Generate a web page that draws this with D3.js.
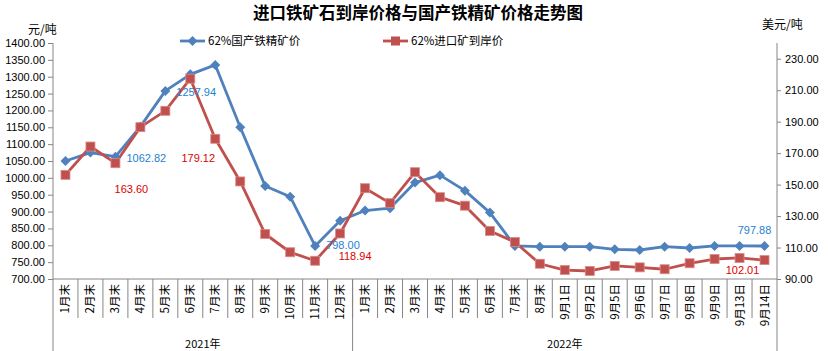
<!DOCTYPE html>
<html>
<head>
<meta charset="utf-8">
<script src="https://cdn.jsdelivr.net/npm/d3@7"></script>
<style>
  body { margin: 0; background: #fff; }
  svg { display: block; font-family: "Liberation Sans", "Noto Sans CJK SC", sans-serif; }
</style>
</head>
<body>
<svg width="828" height="351"></svg>
<script>
const width = 828, height = 351;
const svg = d3.select("svg");

// categories (2021 months, 2022 months + Sept days)
const categories = ["1月末","2月末","3月末","4月末","5月末","6月末","7月末","8月末","9月末","10月末","11月末","12月末",
    "1月末","2月末","3月末","4月末","5月末","6月末","7月末","8月末",
    "9月1日","9月2日","9月5日","9月6日","9月7日","9月8日","9月9日","9月13日","9月14日"];
const yearNames = ["2021年", "2022年"];
const yearCounts = [12, 17];

// 62%国产铁精矿价 (元/吨, left axis)
const domestic = [1050,1075,1062.82,1152,1257.94,1307,1335,1150,976,944,798,873,
    903,910,986,1008,962,897,798,796,
    796,796,788,786,796,792,798,798,797.88];
// 62%进口矿到岸价 (美元/吨, right axis)
const imported = [156.2,174.2,163.6,186.5,196.9,217.3,179.12,152,118.6,107,101.6,118.94,
    147.7,138.2,157.9,142,136.6,120.5,113.5,99.7,
    95.7,95.1,98.3,97.4,96.2,100,102.7,103.4,102.01];

const leftTicks = d3.range(700, 1401, 50);
const rightTicks = d3.range(90, 231, 20);

const margin = {left: 53, right: 51, top: 43, bottom: 72};
const x0 = margin.left, x1 = width - margin.right, yBase = height - margin.bottom;

const x = d3.scaleBand().domain(d3.range(categories.length)).range([x0, x1]).padding(0);
const yL = d3.scaleLinear().domain([700, 1400]).range([yBase, margin.top]);
const yR = d3.scaleLinear().domain([90, 240]).range([yBase, margin.top]);
const cx = i => x(i) + x.bandwidth() / 2;

const blue = "#4F81BD", red = "#C0504D";

// title
svg.append("text")
    .attr("x", 418).attr("y", 19)
    .attr("text-anchor", "middle")
    .style("font-family", "'Noto Sans CJK SC'")
    .style("font-size", "16.5px").style("font-weight", "bold")
    .text("进口铁矿石到岸价格与国产铁精矿价格走势图");

// axis titles
svg.append("text").attr("x", 28).attr("y", 34)
    .style("font-family", "'Noto Sans CJK SC'").style("font-size", "12px").text("元/吨");
svg.append("text").attr("x", 762).attr("y", 29)
    .style("font-family", "'Noto Sans CJK SC'").style("font-size", "12px").text("美元/吨");

// left axis
const gl = svg.append("g")
    .attr("transform", `translate(${x0},0)`)
    .call(d3.axisLeft(yL).tickValues(leftTicks).tickFormat(d3.format(".2f")).tickSize(5).tickSizeOuter(0));
gl.select(".domain").remove();
gl.selectAll(".tick line").attr("stroke", "#868686");
gl.selectAll(".tick text").style("font-size", "11px").attr("x", -8).attr("fill", "#000");
svg.append("line").attr("x1", x0).attr("x2", x0).attr("y1", margin.top).attr("y2", height)
    .attr("stroke", "#868686");

// right axis
const gr = svg.append("g")
    .attr("transform", `translate(${x1},0)`)
    .call(d3.axisRight(yR).tickValues(rightTicks).tickFormat(d3.format(".2f")).tickSize(4).tickSizeOuter(0));
gr.select(".domain").remove();
gr.selectAll(".tick line").attr("stroke", "#868686");
gr.selectAll(".tick text").style("font-size", "11px").attr("x", 8).attr("fill", "#000");
svg.append("line").attr("x1", x1).attr("x2", x1).attr("y1", margin.top).attr("y2", height)
    .attr("stroke", "#868686");

// bottom axis line + category separators
svg.append("line").attr("x1", x0).attr("x2", x1).attr("y1", yBase).attr("y2", yBase)
    .attr("stroke", "#868686");
svg.selectAll(".sep")
    .data(d3.range(1, categories.length))
    .enter().append("line")
    .attr("x1", i => x(i)).attr("x2", i => x(i))
    .attr("y1", yBase).attr("y2", yBase + 39)
    .attr("stroke", "#868686");

svg.selectAll(".cat")
    .data(categories)
    .enter().append("text")
    .attr("transform", (d, i) => `translate(${cx(i) + 4},${yBase + 5}) rotate(-90)`)
    .attr("text-anchor", "end")
    .style("font-family", "'Noto Sans CJK SC'")
    .style("font-size", "11.5px")
    .text(d => d);

// year groups
let start = 0;
yearNames.forEach((name, k) => {
    const end = start + yearCounts[k];
    const xs = x(start), xe = x(end - 1) + x.bandwidth();
    if (k > 0) {
        svg.append("line").attr("x1", xs).attr("x2", xs).attr("y1", yBase).attr("y2", height)
            .attr("stroke", "#868686");
    }
    svg.append("text")
        .attr("x", (xs + xe) / 2).attr("y", 348)
        .attr("text-anchor", "middle")
        .style("font-family", "'Noto Sans CJK SC'")
        .style("font-size", "11px")
        .text(name);
    start = end;
});

// lines
const lineL = d3.line().x((d, i) => cx(i)).y(d => yL(d));
const lineR = d3.line().x((d, i) => cx(i)).y(d => yR(d));

svg.append("path").datum(domestic)
    .attr("d", lineL).attr("fill", "none").attr("stroke", blue).attr("stroke-width", 2.8)
    .attr("stroke-linejoin", "round");
svg.append("path").datum(imported)
    .attr("d", lineR).attr("fill", "none").attr("stroke", red).attr("stroke-width", 2.8)
    .attr("stroke-linejoin", "round");

// markers
svg.selectAll(".dia")
    .data(domestic)
    .enter().append("path")
    .attr("transform", (d, i) => `translate(${cx(i)},${yL(d)})`)
    .attr("d", "M0,-5L5,0L0,5L-5,0Z")
    .attr("fill", blue);

svg.selectAll(".sq")
    .data(imported)
    .enter().append("rect")
    .attr("x", (d, i) => cx(i) - 4.5)
    .attr("y", d => yR(d) - 4.5)
    .attr("width", 9).attr("height", 9)
    .attr("fill", red)
    .attr("stroke", "#d98b89").attr("stroke-width", 0.8);

// data labels
const blueLabels = [
    {i: 2, dx: 11, dy: 5, anchor: "start"},
    {i: 4, dx: 11, dy: 5, anchor: "start"},
    {i: 10, dx: 11, dy: 3, anchor: "start"},
    {i: 28, dx: -10, dy: -12, anchor: "middle"}
];
const redLabels = [
    {i: 2, dx: 16, dy: 30, anchor: "middle"},
    {i: 6, dx: -17, dy: 23, anchor: "middle"},
    {i: 11, dx: 15, dy: 27, anchor: "middle"},
    {i: 28, dx: -22, dy: 14, anchor: "middle"}
];

svg.selectAll(".lblB")
    .data(blueLabels)
    .enter().append("text")
    .attr("x", d => cx(d.i) + d.dx)
    .attr("y", d => yL(domestic[d.i]) + d.dy)
    .attr("text-anchor", d => d.anchor)
    .style("font-size", "11px")
    .attr("fill", "#1f7fd0")
    .text(d => domestic[d.i].toFixed(2));

svg.selectAll(".lblR")
    .data(redLabels)
    .enter().append("text")
    .attr("x", d => cx(d.i) + d.dx)
    .attr("y", d => yR(imported[d.i]) + d.dy)
    .attr("text-anchor", d => d.anchor)
    .style("font-size", "11px")
    .attr("fill", "#e00000")
    .text(d => imported[d.i].toFixed(2));

// legend
const legend = [
    {name: "62%国产铁精矿价", color: blue, x: 180, shape: "dia"},
    {name: "62%进口矿到岸价", color: red, x: 383, shape: "sq"}
];
legend.forEach(l => {
    const g = svg.append("g").attr("transform", `translate(${l.x},41)`);
    g.append("line").attr("x1", 0).attr("x2", 25).attr("stroke", l.color).attr("stroke-width", 2.8);
    if (l.shape === "dia") {
        g.append("path").attr("d", "M12.5,-5L17.5,0L12.5,5L7.5,0Z").attr("fill", l.color);
    } else {
        g.append("rect").attr("x", 8).attr("y", -4.5).attr("width", 9).attr("height", 9).attr("fill", l.color);
    }
    g.append("text").attr("x", 28).attr("y", 4)
        .style("font-family", "'Noto Sans CJK SC'")
        .style("font-size", "11.5px")
        .text(l.name);
});
</script>
</body>
</html>
